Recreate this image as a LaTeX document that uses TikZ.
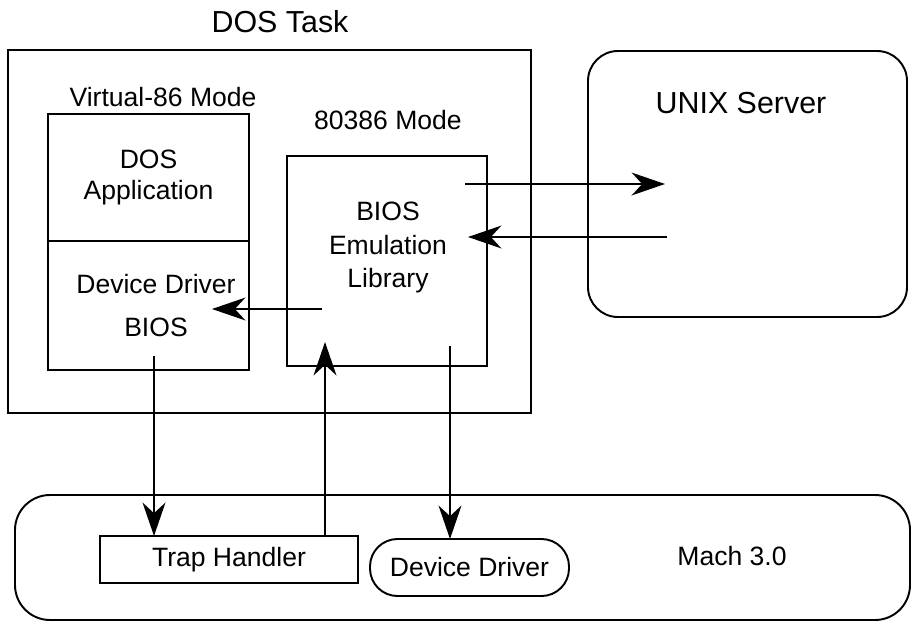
\documentclass[tikz,border=0pt]{standalone}
\usepackage{fontspec}
\setmainfont{Liberation Sans}
\usetikzlibrary{arrows.meta,positioning}

\begin{document}
\begin{tikzpicture}[
    box/.style={draw, line width=1.1pt, inner sep=0pt, outer sep=0pt, align=center, font=\fontsize{15.1}{18}\selectfont},
    rbox/.style={box, rounded corners=0.6cm},
    lbl/.style={font=\fontsize{15.1}{18}\selectfont, align=center},
    biglbl/.style={font=\fontsize{17.3}{20}\selectfont},
    conn/.style={->, line width=1.1pt},
    >={Stealth[length=19pt,width=13pt,inset=6pt]}
]
    \useasboundingbox (0,0) rectangle (18.24,-12.52);

    \node[box, minimum width=10.46cm, minimum height=7.26cm] (dostask) at (5.39,-4.63) {};
    \node[biglbl] (dostasklbl) at (5.6,-0.44) {DOS Task};

    \node[lbl] (v86lbl) at (3.26,-1.94) {Virtual-86 Mode};
    \node[box, minimum width=4.02cm, minimum height=2.54cm] (dosapp) at (2.97,-3.55) {DOS\\Application};
    \node[box, minimum width=4.02cm, minimum height=2.58cm, below=0pt of dosapp] (devbios) {\hspace{0.3cm}Device Driver\\[6pt]\hspace{0.3cm}BIOS};

    \node[lbl] (emulbl) at (7.76,-2.4) {80386 Mode};
    \node[box, minimum width=4.0cm, minimum height=4.2cm] (emu) at (7.74,-5.22) {};
    \node[lbl] (emutext) at (7.76,-4.95) {BIOS\\[1pt]Emulation\\[1pt]Library};

    \node[rbox, minimum width=6.38cm, minimum height=5.32cm] (unix) at (14.95,-3.68) {};
    \node[biglbl] (unixlbl) at (14.82,-2.06) {UNIX Server};

    \node[rbox, rounded corners=0.7cm, minimum width=17.9cm, minimum height=2.5cm] (mach) at (9.25,-11.15) {};
    \node[lbl] (machlbl) at (14.64,-11.12) {Mach 3.0};
    \node[box, minimum width=5.16cm, minimum height=0.94cm] (trap) at (4.58,-11.19) {Trap Handler};
    \node[rbox, rounded corners=0.55cm, minimum width=3.98cm, minimum height=1.14cm] (drv) at (9.39,-11.35) {Device Driver};

    \coordinate (emuout) at (9.3,-3.68);
    \coordinate (unixin) at (13.3,-3.68);
    \coordinate (unixout) at (13.34,-4.74);
    \coordinate (emuin) at (9.36,-4.74);
    \coordinate (emuleft) at (6.44,-6.18);
    \coordinate (biosin) at (4.24,-6.18);
    \coordinate (biosdown) at (3.08,-7.12);
    \coordinate (emuup) at (6.5,-6.84);
    \coordinate (emudown) at (9.0,-6.92);

    \draw[conn] (emuout) -- (unixin);
    \draw[conn] (unixout) -- (emuin);
    \draw[conn] (emuleft) -- (biosin);
    \draw[conn] (biosdown) -- (biosdown |- trap.north);
    \draw[conn] (emuup |- trap.north) -- (emuup);
    \draw[conn] (emudown) -- (emudown |- drv.north);
\end{tikzpicture}
\end{document}
